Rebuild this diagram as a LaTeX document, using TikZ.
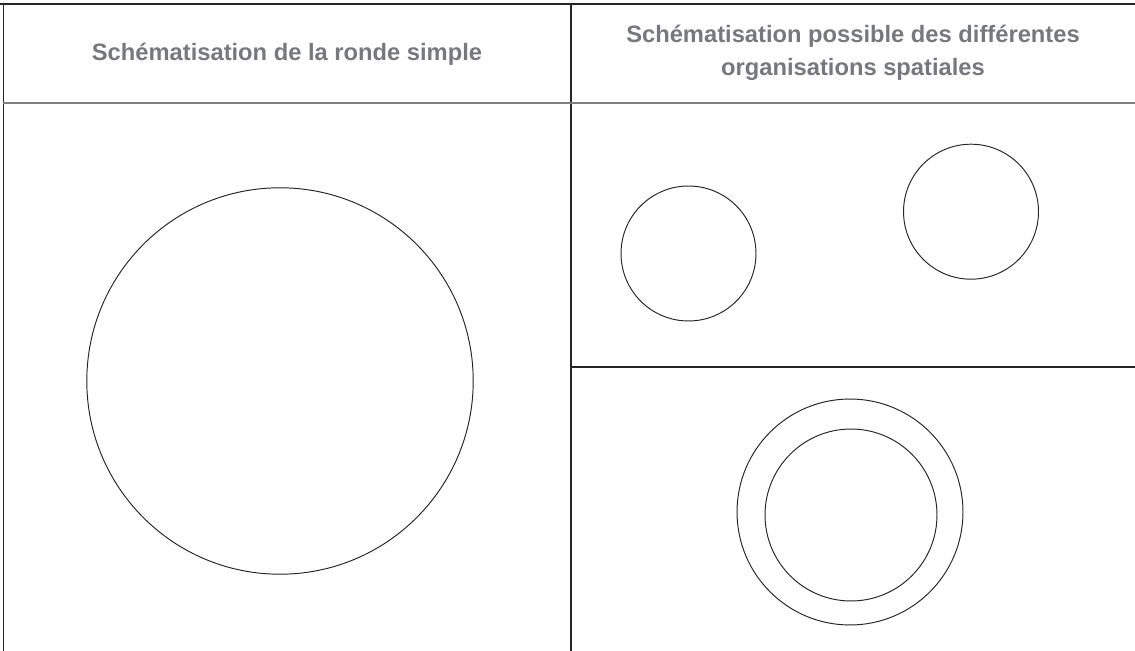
\documentclass[tikz,border=0pt]{standalone}
\usepackage{fontspec}
\setmainfont{Liberation Sans}
\usepackage{xcolor}
\usepackage{tikz}
\usetikzlibrary{positioning}
\definecolor{headgray}{HTML}{76787B}
\definecolor{rulegray}{HTML}{7F7F7F}

\begin{document}
\begin{tikzpicture}[
      x=0.02cm, y=-0.02cm,
      head/.style={font=\fontsize{13.5}{18.7}\selectfont\bfseries, text=headgray, align=center, inner sep=0pt},
      rule/.style={draw=black!85, line width=0.6pt},
      headrule/.style={draw=rulegray, line width=0.9pt},
      ring/.style={draw=black!85, line width=0.55pt, circle, inner sep=0pt, minimum size=#1}
    ]
    \useasboundingbox (0,0) rectangle (1135,651);
    %% table frame
    \coordinate (tl) at (3.3,4);
    \coordinate (tr) at (1135,4);
    \coordinate (bl) at (3.3,651);
    \coordinate (tm) at (571,4);
    \coordinate (bm) at (571,651);
    \coordinate (hl) at (3.3,103);
    \coordinate (hr) at (1135,103);
    \coordinate (ml) at (571,367);
    \coordinate (mr) at (1135,367);
    \draw[rule] (0,4) -- (tr);
    \draw[rule] (tl) -- (bl);
    \draw[rule] (tm) -- (bm);
    \draw[headrule] (hl) -- (hr);
    \draw[rule] (ml) -- (mr);
    %% headers
    \node[head] (hleft) at (287,54) {Schématisation de la ronde simple};
    \node[head] (hright) at (853,53) {Schématisation possible des différentes\\organisations spatiales};
    %% ronde simple
    \node[ring=7.73cm] (ronde) at (280,381) {};
    %% two separate rounds
    \node[ring=2.70cm] (rondeA) at (688.5,253.5) {};
    \node[ring=2.70cm] (rondeB) at (971,211.7) {};
    %% concentric rounds
    \node[ring=4.52cm] (outer) at (850,512) {};
    \node[ring=3.44cm] (inner) at (851,515) {};
  \end{tikzpicture}
\end{document}
